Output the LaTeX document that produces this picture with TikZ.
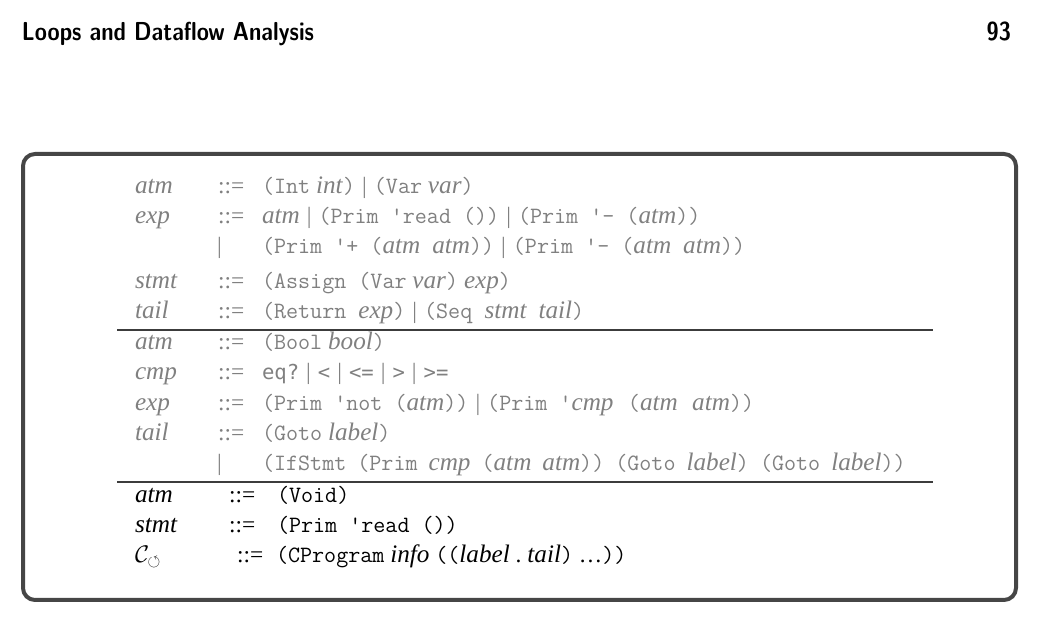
\documentclass[tikz,border=0pt]{standalone}
\usepackage{amssymb}
\usepackage{fontspec}
\setmainfont{Liberation Serif}
\newfontfamily\codefont{DejaVu Sans Mono}[Scale=0.88]
\newcommand{\alt}{\hspace{0.3em}|\hspace{0.3em}}
\newcommand{\itm}[1]{{\fontsize{12.6}{14}\selectfont\itshape #1}}
\newcommand{\wsp}{\hspace{6pt}}
\newcommand{\wspb}{\hspace{5.5pt}}
\newcommand{\wspc}{\hspace{7.2pt}}
\begin{document}
\begin{tikzpicture}[x=0.5pt,y=-0.5pt,
  every node/.style={inner sep=0pt, outer sep=0pt},
  txt/.style={anchor=base west, font=\fontsize{11.7}{14}\selectfont},
  gr/.style={txt, text=grtext},
  bk/.style={txt, text=black},
  rule/.style={draw=rulec, line width=0.6pt},
  hdr/.style={anchor=base west, xscale=0.85, font=\sffamily\bfseries\fontsize{13}{15}\selectfont}]
\definecolor{grtext}{RGB}{128,128,128}
\definecolor{rulec}{RGB}{60,60,60}
\definecolor{boxc}{RGB}{70,70,70}
\useasboundingbox (0,0) rectangle (1041,625);
% header
\node[hdr] (title) at (22,41) {Loops and Dataflow Analysis};
\node[hdr, anchor=base east] (page) at (1011,41) {93};
% frame
\draw[boxc, line width=2pt, rounded corners=6pt] (23,154) rectangle (1016,600);
% section 1
\node[gr] (l1) at (135,194) {\itm{atm}};
\node[gr] (d1) at (218,194) {::=};
\node[gr] (r1) at (262,194) {\texttt{(Int}~\itm{int}\texttt{)}\alt\texttt{(Var}~\itm{var}\texttt{)}};
\node[gr] (l2) at (135,224) {\itm{exp}};
\node[gr] (d2) at (218,224) {::=};
\node[gr] (r2) at (262,224) {\itm{atm}\alt\texttt{(Prim 'read ())}\alt\texttt{(Prim '- (}\itm{atm}\texttt{))}};
\node[gr] (d3) at (217,254) {|};
\node[gr] (r3) at (262,254) {\texttt{(Prim '+ (}\itm{atm}\wsp\itm{atm}\texttt{))}\alt\texttt{(Prim '- (}\itm{atm}\wsp\itm{atm}\texttt{))}};
\node[gr] (l4) at (135,289) {\itm{stmt}};
\node[gr] (d4) at (218,289) {::=};
\node[gr] (r4) at (262,289) {\texttt{(Assign (Var}~\itm{var}\texttt{)}~\itm{exp}\texttt{)}};
\node[gr] (l5) at (135,319) {\itm{tail}};
\node[gr] (d5) at (218,319) {::=};
\node[gr] (r5) at (262,319) {\texttt{(Return}\wsp\itm{exp}\texttt{)}\alt\texttt{(Seq}\wsp\itm{stmt}\wsp\itm{tail}\texttt{)}};
\coordinate (ra) at (117,330);
\coordinate (rb) at (933,330);
\draw[rule] (ra) -- (rb);
% section 2
\node[gr] (l6) at (135,350) {\itm{atm}};
\node[gr] (d6) at (218,350) {::=};
\node[gr] (r6) at (262,350) {\texttt{(Bool}~\itm{bool}\texttt{)}};
\node[gr] (l7) at (135,380) {\itm{cmp}};
\node[gr] (d7) at (218,380) {::=};
\node[gr] (r7) at (262,380) {{\codefont eq?}\alt{\codefont <}\alt{\codefont <=}\alt{\codefont >}\alt{\codefont >=}};
\node[gr] (l8) at (135,411) {\itm{exp}};
\node[gr] (d8) at (218,411) {::=};
\node[gr] (r8) at (262,411) {\texttt{(Prim 'not (}\itm{atm}\texttt{))}\alt\texttt{(Prim '}\itm{cmp}\wspc\texttt{(}\itm{atm}\wspc\itm{atm}\texttt{))}};
\node[gr] (l9) at (135,441) {\itm{tail}};
\node[gr] (d9) at (218,441) {::=};
\node[gr] (r9) at (262,441) {\texttt{(Goto}~\itm{label}\texttt{)}};
\node[gr] (d10) at (217,471) {|};
\node[gr] (r10) at (262,471) {\texttt{(IfStmt}\wspb\texttt{(Prim}\wspb\itm{cmp}\wspb\texttt{(}\itm{atm}\wspb\itm{atm}\texttt{))}\wspb\texttt{(Goto}\wspb\itm{label}\texttt{)}\wspb\texttt{(Goto}\wspb\itm{label}\texttt{))}};
\coordinate (rc) at (117,482);
\coordinate (rd) at (933,482);
\draw[rule] (rc) -- (rd);
% section 3
\node[bk] (l11) at (135,503) {\itm{atm}};
\node[bk] (d11) at (229,503) {::=};
\node[bk] (r11) at (277,503) {\texttt{(Void)}};
\node[bk] (l12) at (135,533) {\itm{stmt}};
\node[bk] (d12) at (229,533) {::=};
\node[bk] (r12) at (277,533) {\texttt{(Prim 'read ())}};
\node[bk] (l13) at (135,563) {$\mathcal{C}_{\circlearrowleft}$};
\node[bk] (d13) at (237,563) {::=};
\node[bk] (r13) at (276,563) {\texttt{(CProgram}~\itm{info}~\texttt{((}\itm{label}~.~\itm{tail}\texttt{)}~\ldots\texttt{))}};
\end{tikzpicture}
\end{document}
